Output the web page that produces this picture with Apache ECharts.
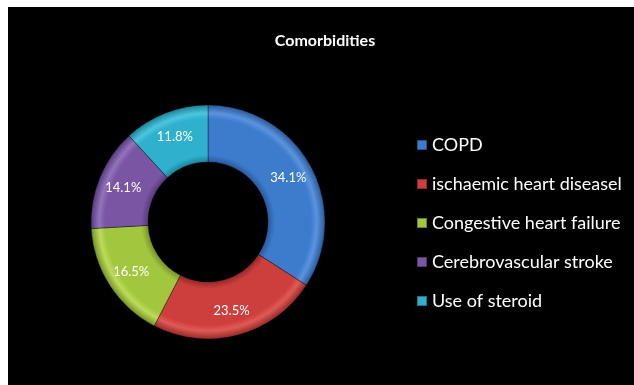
<!DOCTYPE html>
<html>
<head>
<meta charset="utf-8">
<script src="https://cdn.jsdelivr.net/npm/echarts@6/dist/echarts.min.js"></script>
<style>
    html, body { margin: 0; padding: 0; background: #fff; }
    #chart { position: absolute; left: 8px; top: 7px; width: 626px; height: 378px; background: #000; }
</style>
</head>
<body>
<div id="chart"></div>
<script>
    // 数据
    var categories = ['COPD', 'ischaemic heart diseasel', 'Congestive heart failure', 'Cerebrovascular stroke', 'Use of steroid'];
    var percents = [34.1, 23.5, 16.5, 14.1, 11.8];
    var colors = ['#3d7bcc', '#cc3f3c', '#a3c63f', '#7a55a3', '#2fb0cc'];
    var darkColors = ['#2a5a9a', '#96292a', '#76922a', '#563a7a', '#1d8299'];
    var lightColors = ['#5a94de', '#e05a55', '#bcdc5a', '#9472bd', '#4cc6de'];

    var cx = 200, cy = 215, rIn = 60, rOut = 117;
    var chart = echarts.init(document.getElementById('chart'));

    // 斜面效果：以圆心为中心的径向渐变
    function bevel(i) {
        var f = rIn / rOut;
        return {
            type: 'radial', x: cx, y: cy, r: rOut, global: true,
            colorStops: [
                { offset: 0, color: darkColors[i] },
                { offset: f, color: darkColors[i] },
                { offset: f + 0.06, color: colors[i] },
                { offset: 0.88, color: colors[i] },
                { offset: 0.93, color: lightColors[i] },
                { offset: 1, color: darkColors[i] }
            ]
        };
    }

    var pieData = categories.map(function (name, i) {
        return { name: name, value: percents[i], itemStyle: { color: bevel(i) } };
    });

    var option = {
        animation: false,
        color: colors,
        title: {
            text: 'Comorbidities',
            left: 312,
            top: 21,
            textAlign: 'center',
            textStyle: { color: '#fff', fontSize: 16, fontWeight: 'bold', fontFamily: 'Lato' }
        },
        legend: {
            orient: 'vertical',
            left: 403,
            top: 124,
            itemWidth: 10,
            itemHeight: 10,
            itemGap: 21,
            icon: 'rect',
            data: categories.map(function (name, i) {
                return { name: name, itemStyle: { color: colors[i] } };
            }),
            textStyle: { color: '#fff', fontSize: 18, fontFamily: 'Lato' }
        },
        series: [
            {
                type: 'pie',
                center: [cx, cy],
                radius: [rIn, rOut],
                startAngle: 90,
                clockwise: true,
                itemStyle: { borderColor: 'rgba(0,0,0,0.35)', borderWidth: 1 },
                label: {
                    show: true,
                    position: 'inside',
                    color: '#fff',
                    fontSize: 13,
                    fontFamily: 'Lato',
                    formatter: function (p) { return p.value.toFixed(1) + '%'; }
                },
                labelLine: { show: false },
                emphasis: { disabled: true },
                data: pieData
            }
        ]
    };
    chart.setOption(option);
</script>
</body>
</html>
